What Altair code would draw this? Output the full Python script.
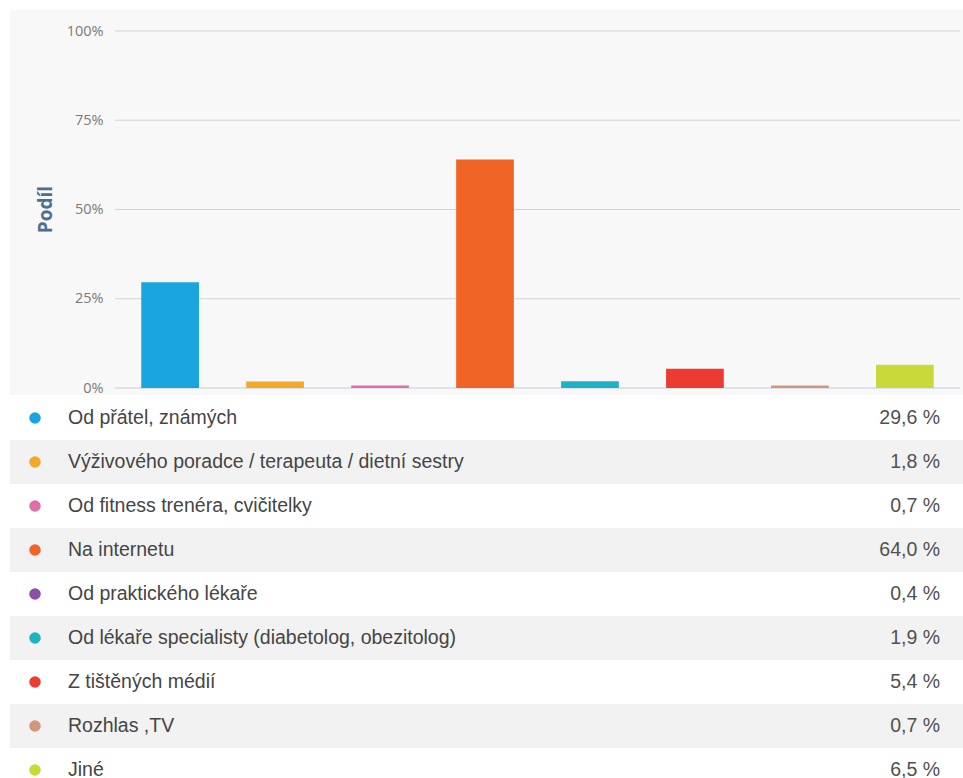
import altair as alt
import pandas as pd

# Table rows (legend below the chart)
labels = [
    "Od přátel, známých",
    "Výživového poradce / terapeuta / dietní sestry",
    "Od fitness trenéra, cvičitelky",
    "Na internetu",
    "Od praktického lékaře",
    "Od lékaře specialisty (diabetolog, obezitolog)",
    "Z tištěných médií",
    "Rozhlas ,TV",
    "Jiné",
]
values = [29.6, 1.8, 0.7, 64.0, 0.4, 1.9, 5.4, 0.7, 6.5]

# Bars as they appear in the chart (8 bars are visible)
bar_labels = [
    "Od přátel, známých",
    "Výživového poradce / terapeuta / dietní sestry",
    "Od fitness trenéra, cvičitelky",
    "Na internetu",
    "Od lékaře specialisty (diabetolog, obezitolog)",
    "Z tištěných médií",
    "Rozhlas ,TV",
    "Jiné",
]
bar_values = [29.6, 1.8, 0.7, 64.0, 1.9, 5.4, 0.7, 6.5]

y_ticks = [0, 25, 50, 75, 100]

palette = ["#1aa5de", "#f4a82a", "#de6fa6", "#f06426", "#8c4fa6",
           "#1fb2c6", "#ec3c31", "#d4967a", "#c9d93a"]

n = len(labels)
df_table = pd.DataFrame({
    "label": labels,
    "value": values,
    "i": list(range(n)),
})
df_table["start"] = df_table["i"]
df_table["end"] = df_table["i"] + 1
df_table["mid"] = df_table["i"] + 0.5
df_table["text"] = [f"{v:.1f}".replace(".", ",") + " %" for v in values]

df_bar = pd.DataFrame({"label": bar_labels, "value": bar_values})
df_ticks = pd.DataFrame({"tick": y_ticks})

row_scale = alt.Scale(domain=[0, n], range=[365, 365 + 44 * n], nice=False, zero=False)
bar_y_scale = alt.Scale(domain=[0, 100], range=[357, 0], nice=False)
color_scale = alt.Scale(domain=labels, range=palette)

bg = alt.Chart(pd.DataFrame({"a": [0]})).mark_rect(color="#f8f8f8").encode(
    x=alt.value(-105), x2=alt.value(848), y=alt.value(-21), y2=alt.value(364)
)

rows = alt.Chart(df_table).mark_rect().encode(
    x=alt.value(-105), x2=alt.value(848),
    y=alt.Y("start:Q", scale=row_scale, axis=None),
    y2="end:Q",
    color=alt.condition("datum.i % 2 == 1", alt.value("#f2f2f2"), alt.value("#ffffff")),
)

grid = alt.Chart(df_ticks).mark_rule(strokeWidth=1).encode(
    x=alt.value(0), x2=alt.value(845),
    y=alt.Y("tick:Q", scale=bar_y_scale, axis=None),
    color=alt.condition("datum.tick === 0", alt.value("#c3cedb"), alt.value("#d3d3d3")),
)

bars = alt.Chart(df_bar).mark_bar().encode(
    x=alt.X("label:N", sort=bar_labels,
            scale=alt.Scale(paddingInner=0.45, paddingOuter=0.25), axis=None),
    y=alt.Y("value:Q",
            scale=bar_y_scale,
            axis=alt.Axis(
                orient="left", values=y_ticks, labelExpr="datum.value + '%'",
                grid=False, zindex=2,
                domain=False, ticks=False, tickSize=0, labelPadding=12,
                labelFont="Open Sans", labelFontSize=14.5, labelColor="#7a7a7a",
                title="Podíl", titleFont="Open Sans", titleFontWeight="bold",
                titleFontSize=19, titleColor="#4a6f8f", titleX=-70, titleY=178,
                titleAngle=270, titleAlign="center", titleBaseline="middle",
            )),
    color=alt.Color("label:N", scale=color_scale, legend=None),
)

dots = alt.Chart(df_table).mark_circle(size=133, opacity=1).encode(
    x=alt.value(-80),
    y=alt.Y("mid:Q", scale=row_scale, axis=None),
    color=alt.Color("label:N", scale=color_scale, legend=None),
)

label_text = alt.Chart(df_table).mark_text(
    align="left", baseline="middle", font="Liberation Sans", fontSize=19.5, color="#454545"
).encode(
    x=alt.value(-47),
    y=alt.Y("mid:Q", scale=row_scale, axis=None),
    text="label:N",
)

value_text = alt.Chart(df_table).mark_text(
    align="right", baseline="middle", font="Liberation Sans", fontSize=19.5, color="#505050"
).encode(
    x=alt.value(825),
    y=alt.Y("mid:Q", scale=row_scale, axis=None),
    text="text:N",
)

chart = alt.layer(bg, rows, grid, bars, dots, label_text, value_text).resolve_scale(
    y="independent"
).properties(
    width=845, height=747,
    padding={"left": 115, "top": 31, "right": 3, "bottom": 0},
    autosize=alt.AutoSizeParams(type="none"),
    background="white",
).configure_view(stroke=None)

chart.save("out.html", embed_options={"renderer": "svg", "actions": False})
